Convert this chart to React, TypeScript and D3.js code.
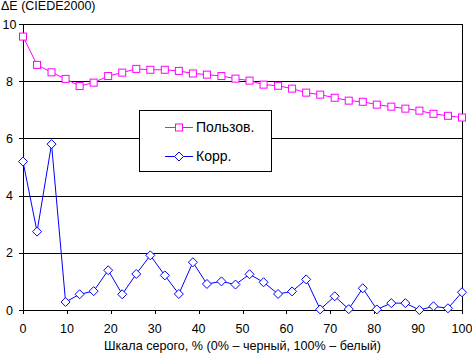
import React from "react";
import * as d3 from "d3";

const grayLevels = [0, 3.2, 6.5, 9.7, 12.9, 16.1, 19.4, 22.6, 25.8, 29.0, 32.3, 35.5, 38.7, 41.9, 45.2, 48.4, 51.6, 54.8, 58.1, 61.3, 64.5, 67.7, 71.0, 74.2, 77.4, 80.6, 83.9, 87.1, 90.3, 93.5, 96.8, 100];
const userValues = [9.56, 8.57, 8.31, 8.08, 7.83, 7.95, 8.18, 8.3, 8.43, 8.4, 8.4, 8.36, 8.27, 8.23, 8.18, 8.09, 8.02, 7.88, 7.84, 7.74, 7.6, 7.53, 7.42, 7.32, 7.28, 7.18, 7.11, 7.04, 6.97, 6.86, 6.79, 6.73];
const corrValues = [5.19, 2.74, 5.8, 0.28, 0.55, 0.66, 1.39, 0.55, 1.26, 1.91, 1.21, 0.56, 1.67, 0.91, 1.0, 0.89, 1.25, 0.97, 0.56, 0.65, 1.07, 0.02, 0.48, 0.03, 0.76, 0.02, 0.24, 0.24, 0.0, 0.13, 0.06, 0.62];
const yTicks = [0, 2, 4, 6, 8, 10];
const xTicks = [0, 10, 20, 30, 40, 50, 60, 70, 80, 90, 100];
const seriesNames = ["Пользов.", "Корр."];
const yTitle = "ΔE (CIEDE2000)";
const xTitle = "Шкала серого, % (0% – черный, 100% – белый)";

const FONT = "'Liberation Sans', Arial, sans-serif";

export default function App() {
  const W = 472, H = 353;
  const x = d3.scaleLinear().domain([0, 100]).range([23, 462]);
  const y = d3.scaleLinear().domain([0, 10]).range([310, 24]);
  const line = d3.line<number>().x((_, i) => x(grayLevels[i])).y((d) => y(d));

  const square = (cx: number, cy: number, key: string | number) => (
    <rect key={key} x={cx - 3.5} y={cy - 3.5} width={7} height={7} fill="#fff" stroke="#FF00FF" strokeWidth={1} />
  );
  const diamond = (cx: number, cy: number, key: string | number) => (
    <path key={key} d={`M${cx},${cy - 4.5}L${cx + 4.5},${cy}L${cx},${cy + 4.5}L${cx - 4.5},${cy}Z`} fill="#fff" stroke="#0000FF" strokeWidth={1} />
  );

  return (
    <svg width={W} height={H} style={{ position: "absolute", left: 0, top: 0, background: "#fff" }} fontFamily={FONT}>
      <rect width={W} height={H} fill="#fff" />
      {yTicks.map((t) => (
        <g key={t}>
          <line x1={19} x2={462} y1={Math.round(y(t)) + 0.5} y2={Math.round(y(t)) + 0.5} stroke="#000" strokeWidth={1} />
          <text x={9.5} y={y(t)} dy="0.36em" textAnchor="middle" fontSize={12.5}>{t}</text>
        </g>
      ))}
      <line x1={23.5} x2={23.5} y1={24} y2={310} stroke="#000" />
      <line x1={462.5} x2={462.5} y1={24} y2={310} stroke="#000" />
      {xTicks.map((t) => (
        <g key={t}>
          <line x1={Math.round(x(t)) + 0.5} x2={Math.round(x(t)) + 0.5} y1={310} y2={314} stroke="#000" />
          <text x={x(t)} y={333} textAnchor="middle" fontSize={12.5}>{t}</text>
        </g>
      ))}
      <text x={1} y={10} fontSize={12.5}>{yTitle}</text>
      <text x={242.5} y={350} textAnchor="middle" fontSize={12.6}>{xTitle}</text>

      <path d={line(userValues) || ""} fill="none" stroke="#FF00FF" strokeWidth={1} />
      {userValues.map((v, i) => square(x(grayLevels[i]), y(v), "u" + i))}
      <path d={line(corrValues) || ""} fill="none" stroke="#0000FF" strokeWidth={1} />
      {corrValues.map((v, i) => diamond(x(grayLevels[i]), y(v), "c" + i))}

      <rect x={139.5} y={110.5} width={132} height={61} fill="#fff" stroke="#000" strokeWidth={1} />
      <line x1={165} x2={193} y1={127.5} y2={127.5} stroke="#FF00FF" />
      {square(179, 127.5, "ls")}
      <text x={196} y={132} fontSize={14}>{seriesNames[0]}</text>
      <line x1={165} x2={193} y1={156.5} y2={156.5} stroke="#0000FF" />
      {diamond(179, 156.5, "ld")}
      <text x={196} y={161} fontSize={14}>{seriesNames[1]}</text>
    </svg>
  );
}
